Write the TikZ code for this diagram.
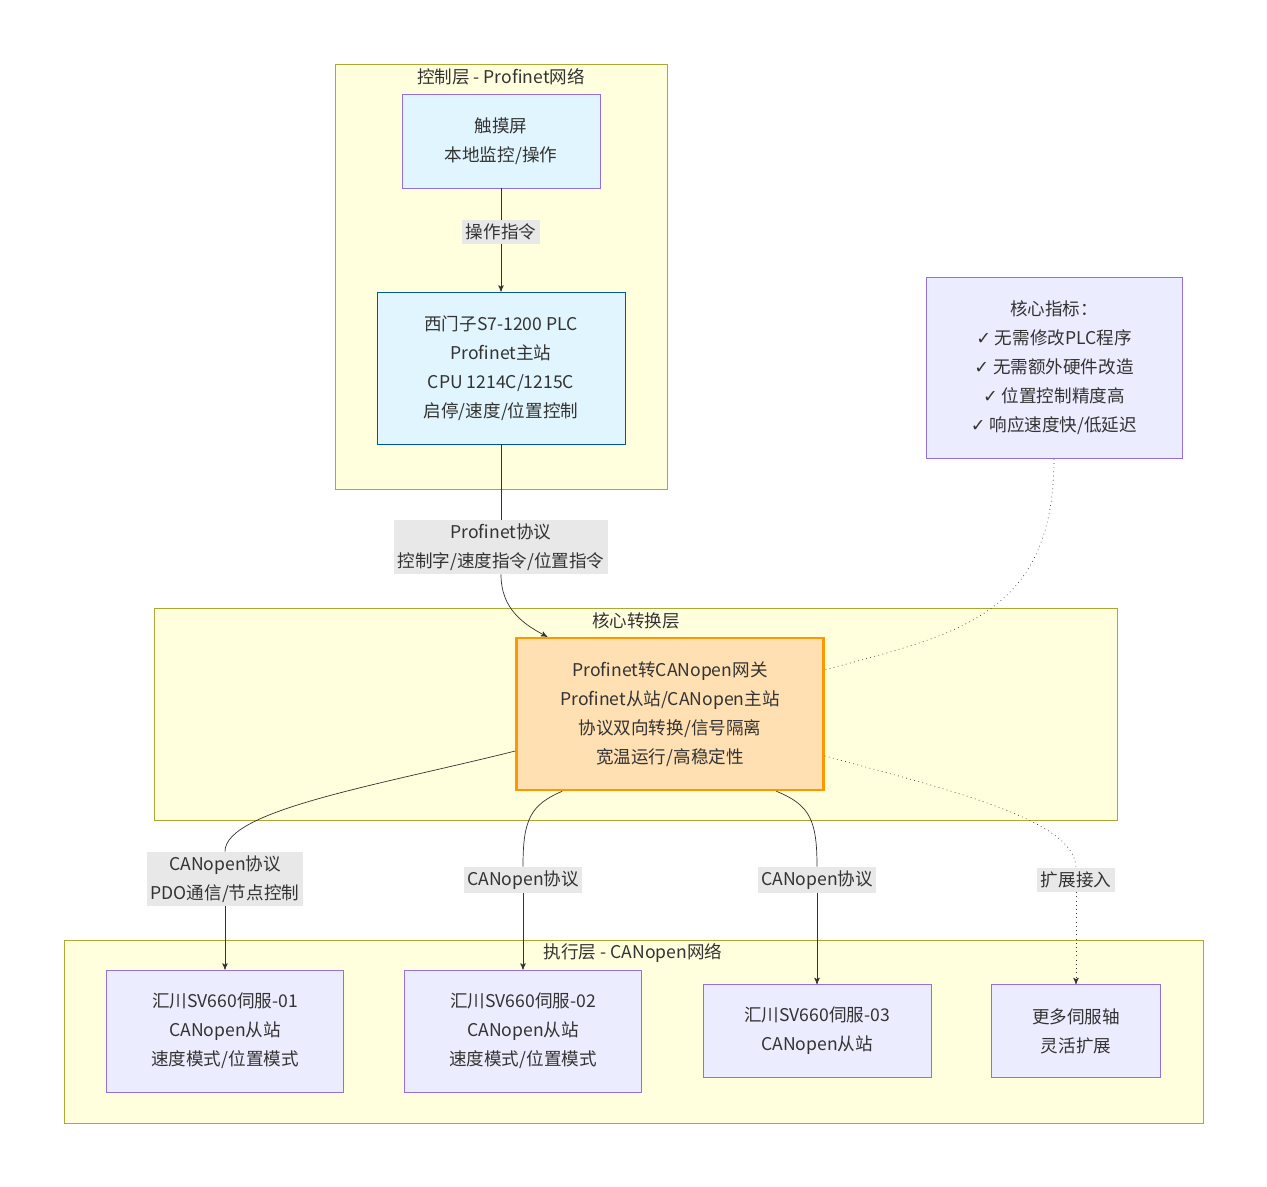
\documentclass[tikz,border=0pt]{standalone}
\usepackage{fontspec}
\setmainfont{Noto Sans CJK SC}
\newfontfamily\symfont{DejaVu Sans}
\usetikzlibrary{arrows,calc}
\definecolor{clusterfill}{HTML}{FFFFDE}
\definecolor{clusterline}{HTML}{AAAA33}
\definecolor{nodefill}{HTML}{ECECFF}
\definecolor{nodeline}{HTML}{9370DB}
\definecolor{plcfill}{HTML}{E1F5FE}
\definecolor{plcline}{HTML}{01579B}
\definecolor{gwfill}{HTML}{FFE0B2}
\definecolor{gwline}{HTML}{FF9800}
\definecolor{lblfill}{HTML}{E8E8E8}
\newcommand{\ok}{{\symfont\char"2713}}
\begin{document}
\begin{tikzpicture}[x=0.2mm,y=-0.2mm,>=stealth',semithick,
  font=\fontsize{10}{16.5}\selectfont, color=black!80]
  \tikzstyle{layer}=[draw=clusterline,fill=clusterfill,thin]
  \tikzstyle{box}=[draw=nodeline,fill=nodefill,thin,align=center,inner sep=0]
  \tikzstyle{lbl}=[fill=lblfill,align=center,inner sep=2pt]
  \tikzstyle{link}=[draw=black!80,thin]

  \useasboundingbox (0,0) rectangle (1267,1187);

  % layers
  \draw[layer] (335,64) rectangle (667,489);
  \node (ctrl) at (501,77) {控制层 - Profinet网络};
  \draw[layer] (154,608) rectangle (1117,820);
  \node (core) at (636,621) {核心转换层};
  \draw[layer] (64,940) rectangle (1203,1123);
  \node (exec) at (633,953) {执行层 - CANopen网络};

  % nodes
  \node[box,fill=plcfill,minimum width=39.6mm,minimum height=18.8mm] (hmi) at (501,141)
    {触摸屏\\本地监控/操作};
  \node[box,fill=plcfill,draw=plcline,minimum width=49.6mm,minimum height=30.4mm] (plc) at (501,368)
    {西门子S7-1200 PLC\\Profinet主站\\CPU 1214C/1215C\\启停/速度/位置控制};
  \node[box,minimum width=51.2mm,minimum height=36.2mm] (kpi) at (1054,368)
    {核心指标：\\\ok{} 无需修改PLC程序\\\ok{} 无需额外硬件改造\\\ok{} 位置控制精度高\\\ok{} 响应速度快/低延迟};
  \node[box,fill=gwfill,draw=gwline,line width=1.4pt,minimum width=61.4mm,minimum height=30.4mm] (gw) at (670,714)
    {Profinet转CANopen网关\\Profinet从站/CANopen主站\\协议双向转换/信号隔离\\宽温运行/高稳定性};
  \node[box,minimum width=47.4mm,minimum height=24.4mm] (sv1) at (225,1031)
    {汇川SV660伺服-01\\CANopen从站\\速度模式/位置模式};
  \node[box,minimum width=47.4mm,minimum height=24.4mm] (sv2) at (523,1031)
    {汇川SV660伺服-02\\CANopen从站\\速度模式/位置模式};
  \node[box,minimum width=45.6mm,minimum height=18.6mm] (sv3) at (817,1031)
    {汇川SV660伺服-03\\CANopen从站};
  \node[box,minimum width=33.8mm,minimum height=18.6mm] (more) at (1076,1031)
    {更多伺服轴\\灵活扩展};

  % connectors
  \node[lbl] (l1) at (501,232) {操作指令};
  \draw[link] (hmi) -- (l1);
  \draw[link,->] (l1) -- (plc);

  \node[lbl] (l2) at (501,547) {Profinet协议\\控制字/速度指令/位置指令};
  \draw[link] (plc) -- (l2);
  \draw[link,->] (l2.south) .. controls (501,610) and (525,625) .. ($(gw.north west)+(32,0)$);

  \node[lbl] (l3) at (225,879) {CANopen协议\\PDO通信/节点控制};
  \draw[link] ($(gw.west)+(0,37)$) .. controls (380,785) and (225,810) .. (l3.north);
  \draw[link,->] (l3) -- (sv1);

  \node[lbl] (l4) at (523,880) {CANopen协议};
  \draw[link] ($(gw.south west)+(47,0)$) .. controls (530,805) and (523,820) .. (l4.north);
  \draw[link,->] (l4) -- (sv2);

  \node[lbl] (l5) at (817,880) {CANopen协议};
  \draw[link] ($(gw.south west)+(261,0)$) .. controls (810,805) and (817,820) .. (l5.north);
  \draw[link,->] (l5) -- (sv3);

  \node[lbl] (l6) at (1076,880) {扩展接入};
  \draw[link,dotted] ($(gw.east)+(0,42)$) .. controls (950,790) and (1076,820) .. (l6.north);
  \draw[link,dotted,->] (l6) -- (more);

  \draw[link,dotted] (kpi.south) .. controls (1054,620) and (950,635) .. ($(gw.east)+(0,-44)$);
\end{tikzpicture}
\end{document}
